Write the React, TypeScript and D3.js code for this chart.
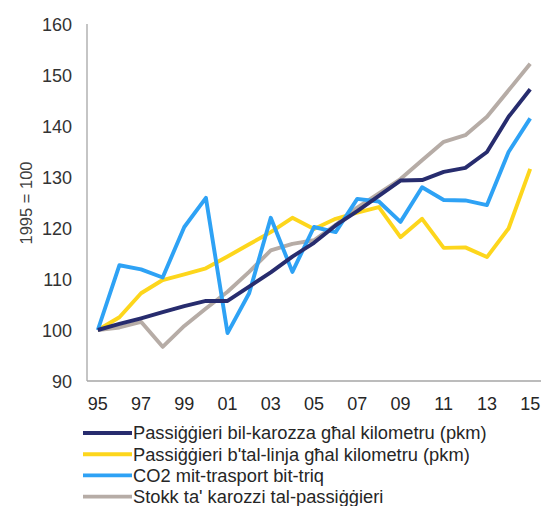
import React from "react";
import * as d3 from "d3";

const years = ["95","96","97","98","99","00","01","02","03","04","05","06","07","08","09","10","11","12","13","14","15"];
const tickYears = ["95","97","99","01","03","05","07","09","11","13","15"];
const yTicks = [90, 100, 110, 120, 130, 140, 150, 160];

const carPkm = [100, 101.2, 102.3, 103.5, 104.7, 105.7, 105.7, 108.5, 111.3, 114.4, 117.1, 120.5, 123.3, 126.3, 129.3, 129.4, 131, 131.8, 134.9, 141.8, 147.2];
const busPkm = [100, 102.5, 107.2, 109.8, 110.9, 112.1, 114.4, 116.8, 119.2, 122, 119.8, 121.8, 123, 124.1, 118.2, 121.8, 116.1, 116.2, 114.3, 119.9, 131.6];
const co2 = [100, 112.7, 111.9, 110.3, 120.2, 125.9, 99.4, 107.2, 122, 111.4, 120.2, 119.2, 125.7, 125.2, 121.2, 128, 125.5, 125.4, 124.5, 134.9, 141.5];
const carStock = [100, 100.5, 101.6, 96.7, 100.8, 104.2, 107.5, 111.4, 115.6, 116.9, 117.6, 120.6, 124, 126.8, 129.6, 133.3, 136.9, 138.2, 141.8, 147, 152.2];

const seriesNames = [
  "Passiġġieri bil-karozza għal kilometru (pkm)",
  "Passiġġieri b'tal-linja għal kilometru (pkm)",
  "CO2 mit-trasport bit-triq",
  "Stokk ta' karozzi tal-passiġġieri",
];
const seriesColors = ["#272c6e", "#fdd61c", "#2ea2f5", "#b6aca6"];

export default function App() {
  const W = 542, H = 506;
  const left = 87, right = 541, top = 24, bottom = 381;
  const x = d3.scaleBand<string>().domain(years).range([left, right]);
  const xc = (d: string) => (x(d) as number) + x.bandwidth() / 2;
  const y = d3.scaleLinear().domain([90, 160]).range([bottom, top]);
  const data = [carPkm, busPkm, co2, carStock];
  const line = d3.line<number>().x((_, i) => xc(years[i])).y((v) => y(v));
  const font = "'Liberation Sans', Arial, sans-serif";
  const drawOrder = [3, 1, 2, 0];
  return (
    <svg width={W} height={H} style={{ position: "absolute", left: 0, top: 0, background: "#fff" }} fontFamily={font}>
      <line x1={left} x2={left} y1={top} y2={bottom} stroke="#a6a6a6" strokeWidth={1.3} />
      <line x1={left} x2={right} y1={bottom} y2={bottom} stroke="#a6a6a6" strokeWidth={1.3} />
      {yTicks.map((t) => (
        <text key={t} x={72} y={y(t) + 0.5} dy="0.35em" textAnchor="end" fontSize={18} fill="#333">{t}</text>
      ))}
      {tickYears.map((t) => (
        <text key={t} x={xc(t)} y={404} dy="0.35em" textAnchor="middle" fontSize={18} fill="#262626">{t}</text>
      ))}
      <text transform={`translate(26,203) rotate(-90)`} textAnchor="middle" dy="0.35em" fontSize={16.5} fill="#404040" x={0} y={0}>
        1995 = 100
      </text>
      {drawOrder.map((i) => (
        <path key={i} d={line(data[i]) as string} fill="none" stroke={seriesColors[i]} strokeWidth={3.9} strokeLinejoin="round" />
      ))}
      {seriesNames.map((n, i) => {
        const ly = 433 + i * 21.2;
        return (
          <g key={n}>
            <line x1={83} x2={132} y1={ly} y2={ly} stroke={seriesColors[i]} strokeWidth={3.9} />
            <text x={133} y={ly} dy="0.35em" fontSize={18.3} fill="#262626">{n}</text>
          </g>
        );
      })}
    </svg>
  );
}
